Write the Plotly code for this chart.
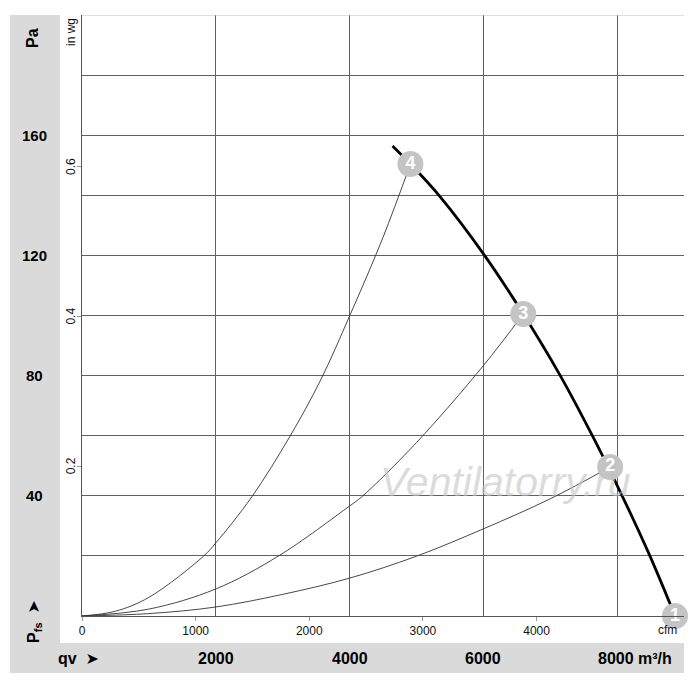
import plotly.graph_objects as go

# ---- data ----
# fan characteristic, airflow in m³/h, static pressure in Pa
fan_q = [4642, 4910, 5343, 6015, 6597, 7150, 7630, 8075, 8490, 8866]
fan_p = [156.4, 150.4, 139.8, 120.1, 100.5, 80.0, 60.0, 40.0, 20.0, 0.0]

# system (resistance) curves from origin to operating points
sys4_q = [0, 500, 1000, 1821, 2000, 2537, 3104, 3567, 4000, 4500, 4910]
sys4_p = [0, 1.6, 6.2, 20.0, 24.3, 39.6, 59.6, 78.5, 99.8, 126.0, 150.4]
sys3_q = [0, 1000, 2000, 2940, 4000, 4179, 5000, 6000, 6597]
sys3_p = [0, 2.3, 9.0, 20.0, 36.6, 39.6, 57.7, 83.3, 100.5]
sys2_q = [0, 1000, 2000, 3000, 4000, 5000, 6000, 7000, 7896]
sys2_p = [0, 0.8, 3.0, 7.2, 12.6, 19.9, 29.0, 39.0, 49.6]

# operating points
op_labels = ["1", "2", "3", "4"]
op_q = [8866, 7896, 6597, 4910]
op_p = [0.0, 49.6, 100.5, 150.4]

# axis labels
pa_ticks = [40, 80, 120, 160]
inwg_ticks = [0.2, 0.4, 0.6]
cfm_ticks = [0, 1000, 2000, 3000, 4000]
m3h_ticks = [2000, 4000, 6000, 8000]

X_MAX = 9000          # m³/h
Y_MAX = 200           # Pa
CFM_FACTOR = 1.699    # m³/h per cfm
PA_PER_INWG = 249.09

fig = go.Figure()

thin = dict(color="#333333", width=0.9, shape="spline")
for q, p in [(sys4_q, sys4_p), (sys3_q, sys3_p), (sys2_q, sys2_p)]:
    fig.add_trace(go.Scatter(x=q, y=p, mode="lines", line=thin,
                             hoverinfo="skip", showlegend=False))

fig.add_trace(go.Scatter(x=fan_q, y=fan_p, mode="lines",
                         line=dict(color="#000000", width=2.8, shape="spline"),
                         hoverinfo="skip", showlegend=False))

fig.add_trace(go.Scatter(x=op_q, y=op_p, mode="markers+text",
                         text=[f"<b>{t}</b>" for t in op_labels],
                         textposition="middle center",
                         textfont=dict(family="Liberation Sans", size=18, color="white"),
                         marker=dict(size=26, color="#c4c4c4", line=dict(width=0)),
                         cliponaxis=False, hoverinfo="skip", showlegend=False))

# helper traces so secondary axes render
fig.add_trace(go.Scatter(x=[0], y=[0], xaxis="x2", mode="lines",
                         line=dict(width=0), hoverinfo="skip", showlegend=False))
fig.add_trace(go.Scatter(x=[0], y=[0], yaxis="y2", mode="lines",
                         line=dict(width=0), hoverinfo="skip", showlegend=False))

grid_col = "#606060"
fig.update_layout(
    width=700, height=689,
    margin=dict(l=74, r=24, t=7, b=81),
    paper_bgcolor="white", plot_bgcolor="white",
    font=dict(family="Liberation Sans", color="#000000"),
    xaxis=dict(range=[0, X_MAX], tickvals=m3h_ticks, showticklabels=False,
               ticks="", showgrid=True, gridcolor=grid_col, gridwidth=1,
               showline=True, linecolor="#555555", linewidth=1.2, zeroline=False,
               fixedrange=True),
    xaxis2=dict(range=[0, X_MAX / CFM_FACTOR], overlaying="x", anchor="y", side="bottom",
                tickvals=cfm_ticks, ticks="outside", ticklen=4, tickcolor="#999999",
                tickfont=dict(size=12, color="#111111"), showgrid=False,
                showline=False, zeroline=False),
    yaxis=dict(range=[0, Y_MAX], tickvals=[20, 40, 60, 80, 100, 120, 140, 160, 180],
               showticklabels=False, ticks="", showgrid=True, gridcolor=grid_col,
               gridwidth=1, showline=True, linecolor="#555555", linewidth=1.2,
               zeroline=False, fixedrange=True),
    yaxis2=dict(range=[0, Y_MAX / PA_PER_INWG], overlaying="y", anchor="x", side="left",
                tickvals=inwg_ticks, ticks="outside", ticklen=4, tickcolor="#999999",
                showticklabels=False, showgrid=False, showline=False, zeroline=False),
)

px_w, px_h = 602.0, 601.0
def px2paper_x(px):
    return (px - 82) / px_w
def px2paper_y(py):
    return (616 - py) / px_h

shapes = [
    # left grey band
    dict(type="rect", xref="paper", yref="paper", x0=px2paper_x(10), x1=px2paper_x(60),
         y0=px2paper_y(643), y1=px2paper_y(15), fillcolor="#dadada", line=dict(width=0),
         layer="below"),
    # bottom grey band
    dict(type="rect", xref="paper", yref="paper", x0=px2paper_x(10), x1=px2paper_x(684),
         y0=px2paper_y(673), y1=px2paper_y(643), fillcolor="#dadada", line=dict(width=0),
         layer="below"),
    # light top border line
    dict(type="line", xref="paper", yref="y", x0=0, x1=1, y0=Y_MAX, y1=Y_MAX,
         line=dict(color="#bbbbbb", width=1.2)),
]
fig.update_layout(shapes=shapes)

ann = []
# Pa labels in left band
for v in pa_ticks:
    ann.append(dict(x=px2paper_x(34), xref="paper", y=v, yref="y", text=f"<b>{v}</b>",
                    showarrow=False, font=dict(size=15), xanchor="center", yanchor="middle"))
ann.append(dict(x=px2paper_x(33), xref="paper", y=px2paper_y(38), yref="paper",
                text="<b>Pa</b>", textangle=-90, showarrow=False, font=dict(size=16),
                xanchor="center", yanchor="middle"))
ann.append(dict(x=px2paper_x(34), xref="paper", y=px2paper_y(622), yref="paper",
                text="<b>P<sub>fs</sub></b>  <span style='font-family:DejaVu Sans'>➤</span>",
                textangle=-90, showarrow=False, font=dict(size=16),
                xanchor="center", yanchor="middle"))
# in wg labels
for v in inwg_ticks:
    ann.append(dict(x=px2paper_x(71), xref="paper", y=v, yref="y2", text=f"{v:.1f}",
                    textangle=-90, showarrow=False, font=dict(size=12, color="#111111"),
                    xanchor="center", yanchor="middle"))
ann.append(dict(x=px2paper_x(71), xref="paper", y=px2paper_y(32), yref="paper",
                text="in wg", textangle=-90, showarrow=False, font=dict(size=12, color="#111111"),
                xanchor="center", yanchor="middle"))
# cfm unit
ann.append(dict(x=px2paper_x(667), xref="paper", y=px2paper_y(630), yref="paper",
                text="cfm", showarrow=False, font=dict(size=12, color="#111111"),
                xanchor="center", yanchor="middle"))
# m³/h labels in bottom band
for v in m3h_ticks[:-1]:
    ann.append(dict(x=v, xref="x", y=px2paper_y(658), yref="paper", text=f"<b>{v}</b>",
                    showarrow=False, font=dict(size=16), xanchor="center", yanchor="middle"))
ann.append(dict(x=m3h_ticks[-1], xref="x", xshift=-21, y=px2paper_y(658), yref="paper",
                text="<b>8000 m³/h</b>", showarrow=False, font=dict(size=16),
                xanchor="left", yanchor="middle"))
ann.append(dict(x=px2paper_x(56), xref="paper", y=px2paper_y(658), yref="paper",
                text="<b>qv</b>  <span style='font-family:DejaVu Sans'>➤</span>",
                showarrow=False, font=dict(size=16), xanchor="left", yanchor="middle"))
# watermark
ann.append(dict(x=px2paper_x(506), xref="paper", y=px2paper_y(482), yref="paper",
                text="<i>Ventilatorry.ru</i>", showarrow=False,
                font=dict(size=41, color="rgba(195,195,195,0.6)", family="Liberation Sans"),
                xanchor="center", yanchor="middle"))
fig.update_layout(annotations=ann)

fig.write_html("out.html")
